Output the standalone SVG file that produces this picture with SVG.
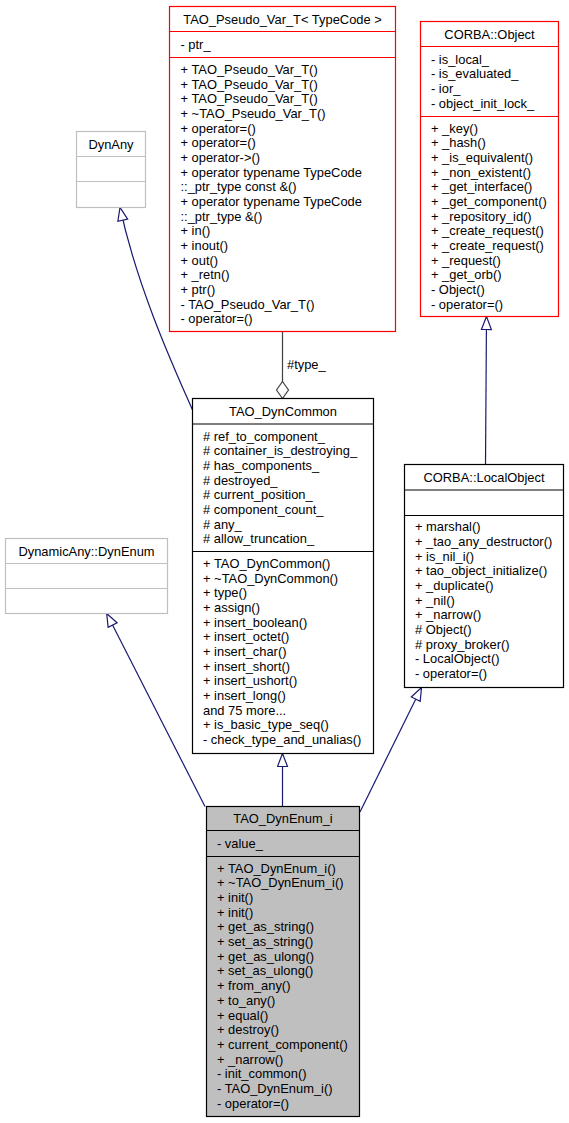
<svg xmlns="http://www.w3.org/2000/svg" width="569" height="1123" viewBox="0 0 569 1123">
<style>
text{font-family:"Liberation Sans",Arial,sans-serif;font-size:12.9px;fill:#000}
.t{text-anchor:middle}
.box{fill:#fff;stroke:#000;stroke-width:1.2}
.red{fill:#fff;stroke:#ff0000;stroke-width:1.2}
.gray{fill:#fff;stroke:#bfbfbf;stroke-width:1.2}
.cur{fill:#bfbfbf;stroke:#000;stroke-width:1.2}
.sep{stroke-width:1.2;fill:none}
.inh{fill:none;stroke:#191970;stroke-width:1.2;marker-end:url(#tri)}
.use{fill:none;stroke:#404040;stroke-width:1.2;marker-end:url(#dia)}
</style>
<defs>
<marker id="tri" markerUnits="userSpaceOnUse" viewBox="-1 -1 15 12" markerWidth="15" markerHeight="12" refX="13" refY="5" orient="auto">
<path d="M0,0 L13,5 L0,10 Z" fill="#fff" stroke="#191970" stroke-width="1.2"/>
</marker>
<marker id="dia" markerUnits="userSpaceOnUse" viewBox="-1 -1 19 14" markerWidth="19" markerHeight="14" refX="17" refY="6" orient="auto">
<path d="M0,6 L8.5,0 L17,6 L8.5,12 Z" fill="#fff" stroke="#404040" stroke-width="1.2"/>
</marker>
</defs>

<g id="edges">
<path class="inh" d="M192.5,410 C175,370 138,290 120,207.5"/>
<path class="inh" d="M205,806.5 L106.7,613.5"/>
<path class="inh" d="M282.5,806.5 L282.5,753.5"/>
<path class="inh" d="M360,812 L421.5,687.5"/>
<path class="inh" d="M485.5,464.5 L486.5,316.5"/>
<path class="use" d="M282.5,331.5 L282.5,398.5"/>
<text x="287" y="369">#type_</text>
</g>

<g id="TAO_Pseudo_Var_T">
<rect class="red" x="169.5" y="6.5" width="226" height="325"/>
<path class="sep" stroke="#ff0000" d="M169.5,31.5 H395.5 M169.5,57.5 H395.5"/>
<text class="t" x="282.5" y="23.5">TAO_Pseudo_Var_T&lt; TypeCode &gt;</text>
<text x="180.5" y="49">- ptr_</text>
<text x="180.5" y="74">+ TAO_Pseudo_Var_T()</text>
<text x="180.5" y="88.67">+ TAO_Pseudo_Var_T()</text>
<text x="180.5" y="103.34">+ TAO_Pseudo_Var_T()</text>
<text x="180.5" y="118.01">+ ~TAO_Pseudo_Var_T()</text>
<text x="180.5" y="132.68">+ operator=()</text>
<text x="180.5" y="147.35">+ operator=()</text>
<text x="180.5" y="162.02">+ operator-&gt;()</text>
<text x="180.5" y="176.69">+ operator typename TypeCode</text>
<text x="180.5" y="191.36">::_ptr_type const &amp;()</text>
<text x="180.5" y="206.03">+ operator typename TypeCode</text>
<text x="180.5" y="220.7">::_ptr_type &amp;()</text>
<text x="180.5" y="235.37">+ in()</text>
<text x="180.5" y="250.04">+ inout()</text>
<text x="180.5" y="264.71">+ out()</text>
<text x="180.5" y="279.38">+ _retn()</text>
<text x="180.5" y="294.05">+ ptr()</text>
<text x="180.5" y="308.72">- TAO_Pseudo_Var_T()</text>
<text x="180.5" y="323.39">- operator=()</text>
</g>

<g id="CORBA_Object">
<rect class="red" x="420.5" y="21.5" width="138" height="295"/>
<path class="sep" stroke="#ff0000" d="M420.5,46.5 H558.5 M420.5,116.5 H558.5"/>
<text class="t" x="489.5" y="38.6">CORBA::Object</text>
<text x="431" y="63.8">- is_local_</text>
<text x="431" y="78.47">- is_evaluated_</text>
<text x="431" y="93.14">- ior_</text>
<text x="431" y="107.81">- object_init_lock_</text>
<text x="431" y="132.7">+ _key()</text>
<text x="431" y="147.37">+ _hash()</text>
<text x="431" y="162.04">+ _is_equivalent()</text>
<text x="431" y="176.71">+ _non_existent()</text>
<text x="431" y="191.38">+ _get_interface()</text>
<text x="431" y="206.05">+ _get_component()</text>
<text x="431" y="220.72">+ _repository_id()</text>
<text x="431" y="235.39">+ _create_request()</text>
<text x="431" y="250.06">+ _create_request()</text>
<text x="431" y="264.73">+ _request()</text>
<text x="431" y="279.4">+ _get_orb()</text>
<text x="431" y="294.07">- Object()</text>
<text x="431" y="308.74">- operator=()</text>
</g>

<g id="DynAny">
<rect class="gray" x="76.5" y="131.5" width="69" height="76"/>
<path class="sep" stroke="#bfbfbf" d="M76.5,156.5 H145.5 M76.5,181.5 H145.5"/>
<text class="t" x="111" y="148.6">DynAny</text>
</g>

<g id="TAO_DynCommon">
<rect class="box" x="192.5" y="398.5" width="181" height="355"/>
<path class="sep" stroke="#000" d="M192.5,424 H373.5 M192.5,551.5 H373.5"/>
<text class="t" x="283" y="415.8">TAO_DynCommon</text>
<text x="203" y="440.5"># ref_to_component_</text>
<text x="203" y="455.17"># container_is_destroying_</text>
<text x="203" y="469.84"># has_components_</text>
<text x="203" y="484.51"># destroyed_</text>
<text x="203" y="499.18"># current_position_</text>
<text x="203" y="513.85"># component_count_</text>
<text x="203" y="528.52"># any_</text>
<text x="203" y="543.19"># allow_truncation_</text>
<text x="203" y="567.9">+ TAO_DynCommon()</text>
<text x="203" y="582.57">+ ~TAO_DynCommon()</text>
<text x="203" y="597.24">+ type()</text>
<text x="203" y="611.91">+ assign()</text>
<text x="203" y="626.58">+ insert_boolean()</text>
<text x="203" y="641.25">+ insert_octet()</text>
<text x="203" y="655.92">+ insert_char()</text>
<text x="203" y="670.59">+ insert_short()</text>
<text x="203" y="685.26">+ insert_ushort()</text>
<text x="203" y="699.93">+ insert_long()</text>
<text x="203" y="714.6">and 75 more...</text>
<text x="203" y="729.27">+ is_basic_type_seq()</text>
<text x="203" y="743.94">- check_type_and_unalias()</text>
</g>

<g id="CORBA_LocalObject">
<rect class="box" x="404.5" y="464.5" width="159" height="223"/>
<path class="sep" stroke="#000" d="M404.5,490 H563.5 M404.5,515.5 H563.5"/>
<text class="t" x="484" y="481.5">CORBA::LocalObject</text>
<text x="415" y="531.3">+ marshal()</text>
<text x="415" y="545.97">+ _tao_any_destructor()</text>
<text x="415" y="560.64">+ is_nil_i()</text>
<text x="415" y="575.31">+ tao_object_initialize()</text>
<text x="415" y="589.98">+ _duplicate()</text>
<text x="415" y="604.65">+ _nil()</text>
<text x="415" y="619.32">+ _narrow()</text>
<text x="415" y="633.99"># Object()</text>
<text x="415" y="648.66"># proxy_broker()</text>
<text x="415" y="663.33">- LocalObject()</text>
<text x="415" y="678">- operator=()</text>
</g>

<g id="DynamicAny_DynEnum">
<rect class="gray" x="5.5" y="538.5" width="162" height="75"/>
<path class="sep" stroke="#bfbfbf" d="M5.5,563.5 H167.5 M5.5,588.5 H167.5"/>
<text class="t" x="86.5" y="555.6">DynamicAny::DynEnum</text>
</g>

<g id="TAO_DynEnum_i">
<rect class="cur" x="206.5" y="806.5" width="153" height="310"/>
<path class="sep" stroke="#000" d="M206.5,830.5 H359.5 M206.5,856.5 H359.5"/>
<text class="t" x="283" y="822.9">TAO_DynEnum_i</text>
<text x="217" y="847.9">- value_</text>
<text x="217" y="872.8">+ TAO_DynEnum_i()</text>
<text x="217" y="887.47">+ ~TAO_DynEnum_i()</text>
<text x="217" y="902.14">+ init()</text>
<text x="217" y="916.81">+ init()</text>
<text x="217" y="931.48">+ get_as_string()</text>
<text x="217" y="946.15">+ set_as_string()</text>
<text x="217" y="960.82">+ get_as_ulong()</text>
<text x="217" y="975.49">+ set_as_ulong()</text>
<text x="217" y="990.16">+ from_any()</text>
<text x="217" y="1004.83">+ to_any()</text>
<text x="217" y="1019.5">+ equal()</text>
<text x="217" y="1034.17">+ destroy()</text>
<text x="217" y="1048.84">+ current_component()</text>
<text x="217" y="1063.51">+ _narrow()</text>
<text x="217" y="1078.18">- init_common()</text>
<text x="217" y="1092.85">- TAO_DynEnum_i()</text>
<text x="217" y="1107.52">- operator=()</text>
</g>
</svg>
